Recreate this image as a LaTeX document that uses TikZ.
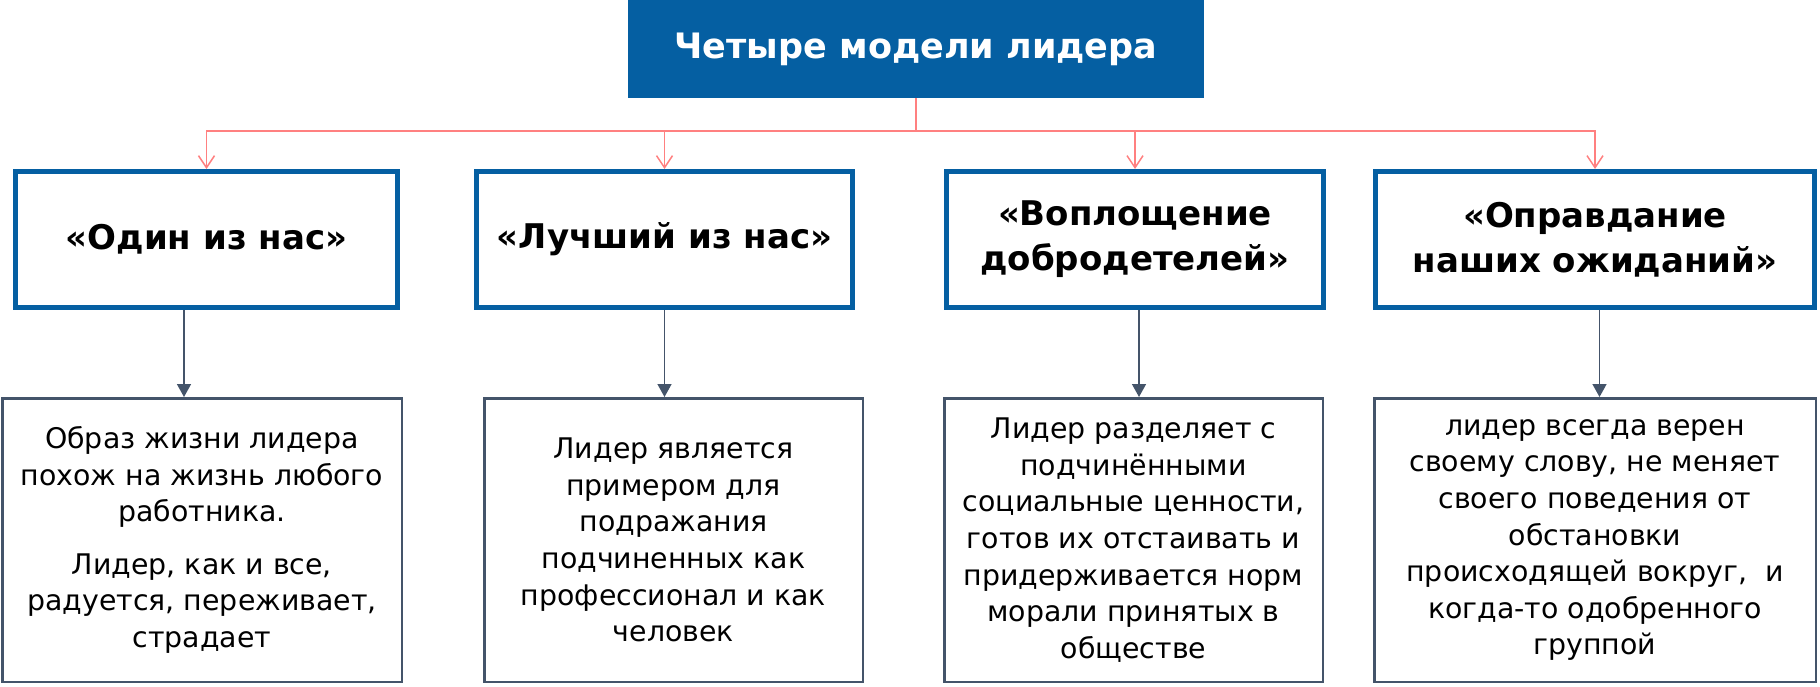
\documentclass[tikz,border=0pt]{standalone}
\usepackage{fontspec}
\setmainfont{DejaVu Sans}
\usetikzlibrary{positioning,arrows.meta}
\definecolor{leadblue}{HTML}{055FA2}
\definecolor{linkred}{HTML}{FF8080}
\definecolor{slate}{HTML}{44546A}
\begin{document}
\begin{tikzpicture}[x=0.5pt,y=-0.5pt,
head/.style ={fill=leadblue,text=white,inner sep=0pt,
  minimum width=288pt,minimum height=49pt,
  font=\bfseries\fontsize{17.5}{21}\selectfont},
model/.style ={draw=leadblue,line width=2.5pt,inner sep=0pt,
  minimum height=68pt,align=center,
  font=\bfseries\fontsize{17}{22.5}\selectfont},
note/.style ={draw=slate,line width=1.25pt,inner sep=0pt,
  minimum height=141.75pt,align=center,
  font=\fontsize{14.2}{18.3}\selectfont},
link/.style ={linkred,line width=0.75pt},
down/.style ={slate,line width=0.75pt,-{Triangle[length=6.5pt,width=7pt]}}
]
\useasboundingbox (0,0) rectangle (1820,686);
\node[head] (top) at (916,49) {Четыре модели лидера};
\node[model,minimum width=191pt] (t1) at (206.5,239.5) {«Один из нас»};
\node[model,minimum width=188pt] (t2) at (664.5,239.5) {«Лучший из нас»};
\node[model,minimum width=188.5pt] (t3) at (1135,239.5) {«Воплощение\\добродетелей»};
\node[model,minimum width=219.5pt] (t4) at (1595,239.5) {«Оправдание\\наших ожиданий»};
\node[note,minimum width=199.75pt] (d1) at (202,540) {Образ жизни лидера\\похож на жизнь любого\\работника.\\[8pt]Лидер, как и все,\\радуется, переживает,\\страдает};
\node[note,minimum width=189.25pt] (d2) at (673.5,540) {Лидер является\\примером для\\подражания\\подчиненных как\\профессионал и как\\человек};
\node[note,minimum width=189.25pt] (d3) at (1133.5,540) {Лидер разделяет с\\подчинёнными\\социальные ценности,\\готов их отстаивать и\\придерживается норм\\морали принятых в\\обществе};
\node[note,minimum width=220.75pt] (d4) at (1595,540) {лидер всегда верен\\своему слову, не меняет\\своего поведения от\\обстановки\\происходящей вокруг,~ и\\когда-то одобренного\\группой};
\coordinate (hub) at (916,131);
\draw[link] (top) -- (hub);
\foreach \m in {t1,t2,t3,t4}
  \draw[link,-{Straight Barb[length=6pt,width=8pt]}] (hub) -| (\m.north);
\foreach \m/\d/\s in {t1/d1/-11.25pt,t2/d2/0pt,t3/d3/2pt,t4/d4/2.25pt}{
  \coordinate (a\m) at ([xshift=\s]\m.south);
  \draw[down] (a\m) -- (a\m |- \d.north);
}
\end{tikzpicture}
\end{document}
